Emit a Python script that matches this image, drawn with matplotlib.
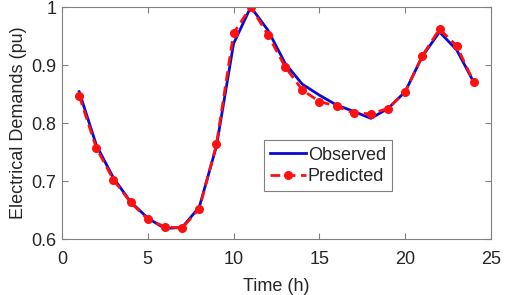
import matplotlib

matplotlib.use("Agg")
import matplotlib.pyplot as plt

plt.rcParams["font.family"] = ["Liberation Sans", "DejaVu Sans"]

# Hourly demand (pu)
hours = list(range(1, 25))
observed = [0.854, 0.762, 0.705, 0.664, 0.636, 0.618, 0.620, 0.655, 0.760, 0.937,
            1.000, 0.960, 0.903, 0.867, 0.848, 0.831, 0.820, 0.808, 0.825, 0.854,
            0.915, 0.957, 0.926, 0.870]
predicted = [0.847, 0.757, 0.702, 0.663, 0.634, 0.621, 0.619, 0.652, 0.763, 0.955,
             1.000, 0.952, 0.897, 0.857, 0.837, 0.829, 0.817, 0.816, 0.825, 0.854,
             0.916, 0.962, 0.933, 0.870]

x_ticks = [0, 5, 10, 15, 20, 25]
y_ticks = [0.6, 0.7, 0.8, 0.9, 1.0]
y_tick_labels = ["0.6", "0.7", "0.8", "0.9", "1"]

TEXT = "#262626"
AXIS = "#808080"

fig = plt.figure(figsize=(5.05, 2.95), dpi=100)
ax = fig.add_axes([62 / 505, 56 / 295, 429 / 505, 232 / 295])

ax.plot(hours, observed, color="#0a0ad2", linewidth=2.0, label="Observed")
ax.plot(hours, predicted, color="#ff1010", linewidth=2.0, linestyle=(0, (3.5, 2)),
        marker="o", markersize=5.5, label="Predicted")

ax.set_xlim(0, 25)
ax.set_ylim(0.6, 1.0)
ax.set_xticks(x_ticks)
ax.set_yticks(y_ticks)
ax.set_yticklabels(y_tick_labels)
ax.tick_params(direction="in", length=4, color=AXIS, labelcolor=TEXT,
               labelsize=13, top=True, right=True, pad=4)
ax.tick_params(axis="x", pad=9)
for spine in ax.spines.values():
    spine.set_color(AXIS)
    spine.set_linewidth(0.8)

ax.set_xlabel("Time (h)", fontsize=13, color=TEXT, labelpad=7)
ax.set_ylabel("Electrical Demands (pu)", fontsize=13, color=TEXT, labelpad=3)

leg = ax.legend(loc="center", bbox_to_anchor=(0.62, 0.315), fontsize=13,
                frameon=True, fancybox=False, numpoints=1, handlelength=2.0,
                handletextpad=0.1, borderpad=0.35, labelspacing=0.25,
                borderaxespad=0)
leg.get_frame().set_edgecolor("#606060")
leg.get_frame().set_linewidth(0.8)
for t in leg.get_texts():
    t.set_color(TEXT)

fig.savefig("out.png", dpi=100)
